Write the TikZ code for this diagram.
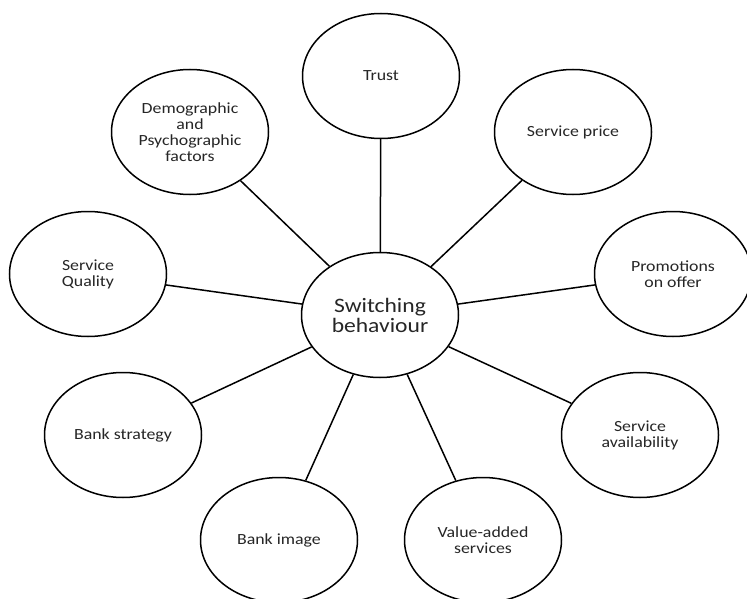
\documentclass[tikz,border=0pt]{standalone}
\usepackage{fontspec}
\setmainfont{Carlito}[FakeStretch=1.15]
\usetikzlibrary{shapes.geometric}
\tikzset{
  bubble/.style={draw=black, line width=1.5pt, ellipse, fill=white,
    minimum width=157pt, minimum height=125pt, inner sep=0pt, align=center,
    font=\fontsize{15.5}{16}\selectfont, text=black!85},
  hub/.style={bubble, font=\fontsize{20.5}{20}\selectfont},
  link/.style={draw=black, line width=1.5pt}
}
\begin{document}
\begin{tikzpicture}[x=1pt,y=-1pt]
\useasboundingbox (0,0) rectangle (747,599);
\fill[white] (0,0) rectangle (747,599);
\clip (0,0) rectangle (747,599);
\node[hub] (c) at (380,315) {Switching\\behaviour};
\node[bubble] (trust) at (381,76) {Trust};
\node[bubble] (demo) at (190,132) {Demographic\\and\\Psychographic\\factors};
\node[bubble] (price) at (573,132) {Service price};
\node[bubble] (qual) at (88,274) {Service\\Quality};
\node[bubble] (promo) at (673,274) {Promotions\\on offer};
\node[bubble] (strat) at (123,435) {Bank strategy};
\node[bubble] (avail) at (640,435) {Service\\availability};
\node[bubble] (image) at (279,540) {Bank image};
\node[bubble] (value) at (483,540) {Value-added\\services};
\foreach \n in {trust,demo,price,qual,promo,strat,avail,image,value}
  \draw[link] (c) -- (\n);
\end{tikzpicture}
\end{document}
